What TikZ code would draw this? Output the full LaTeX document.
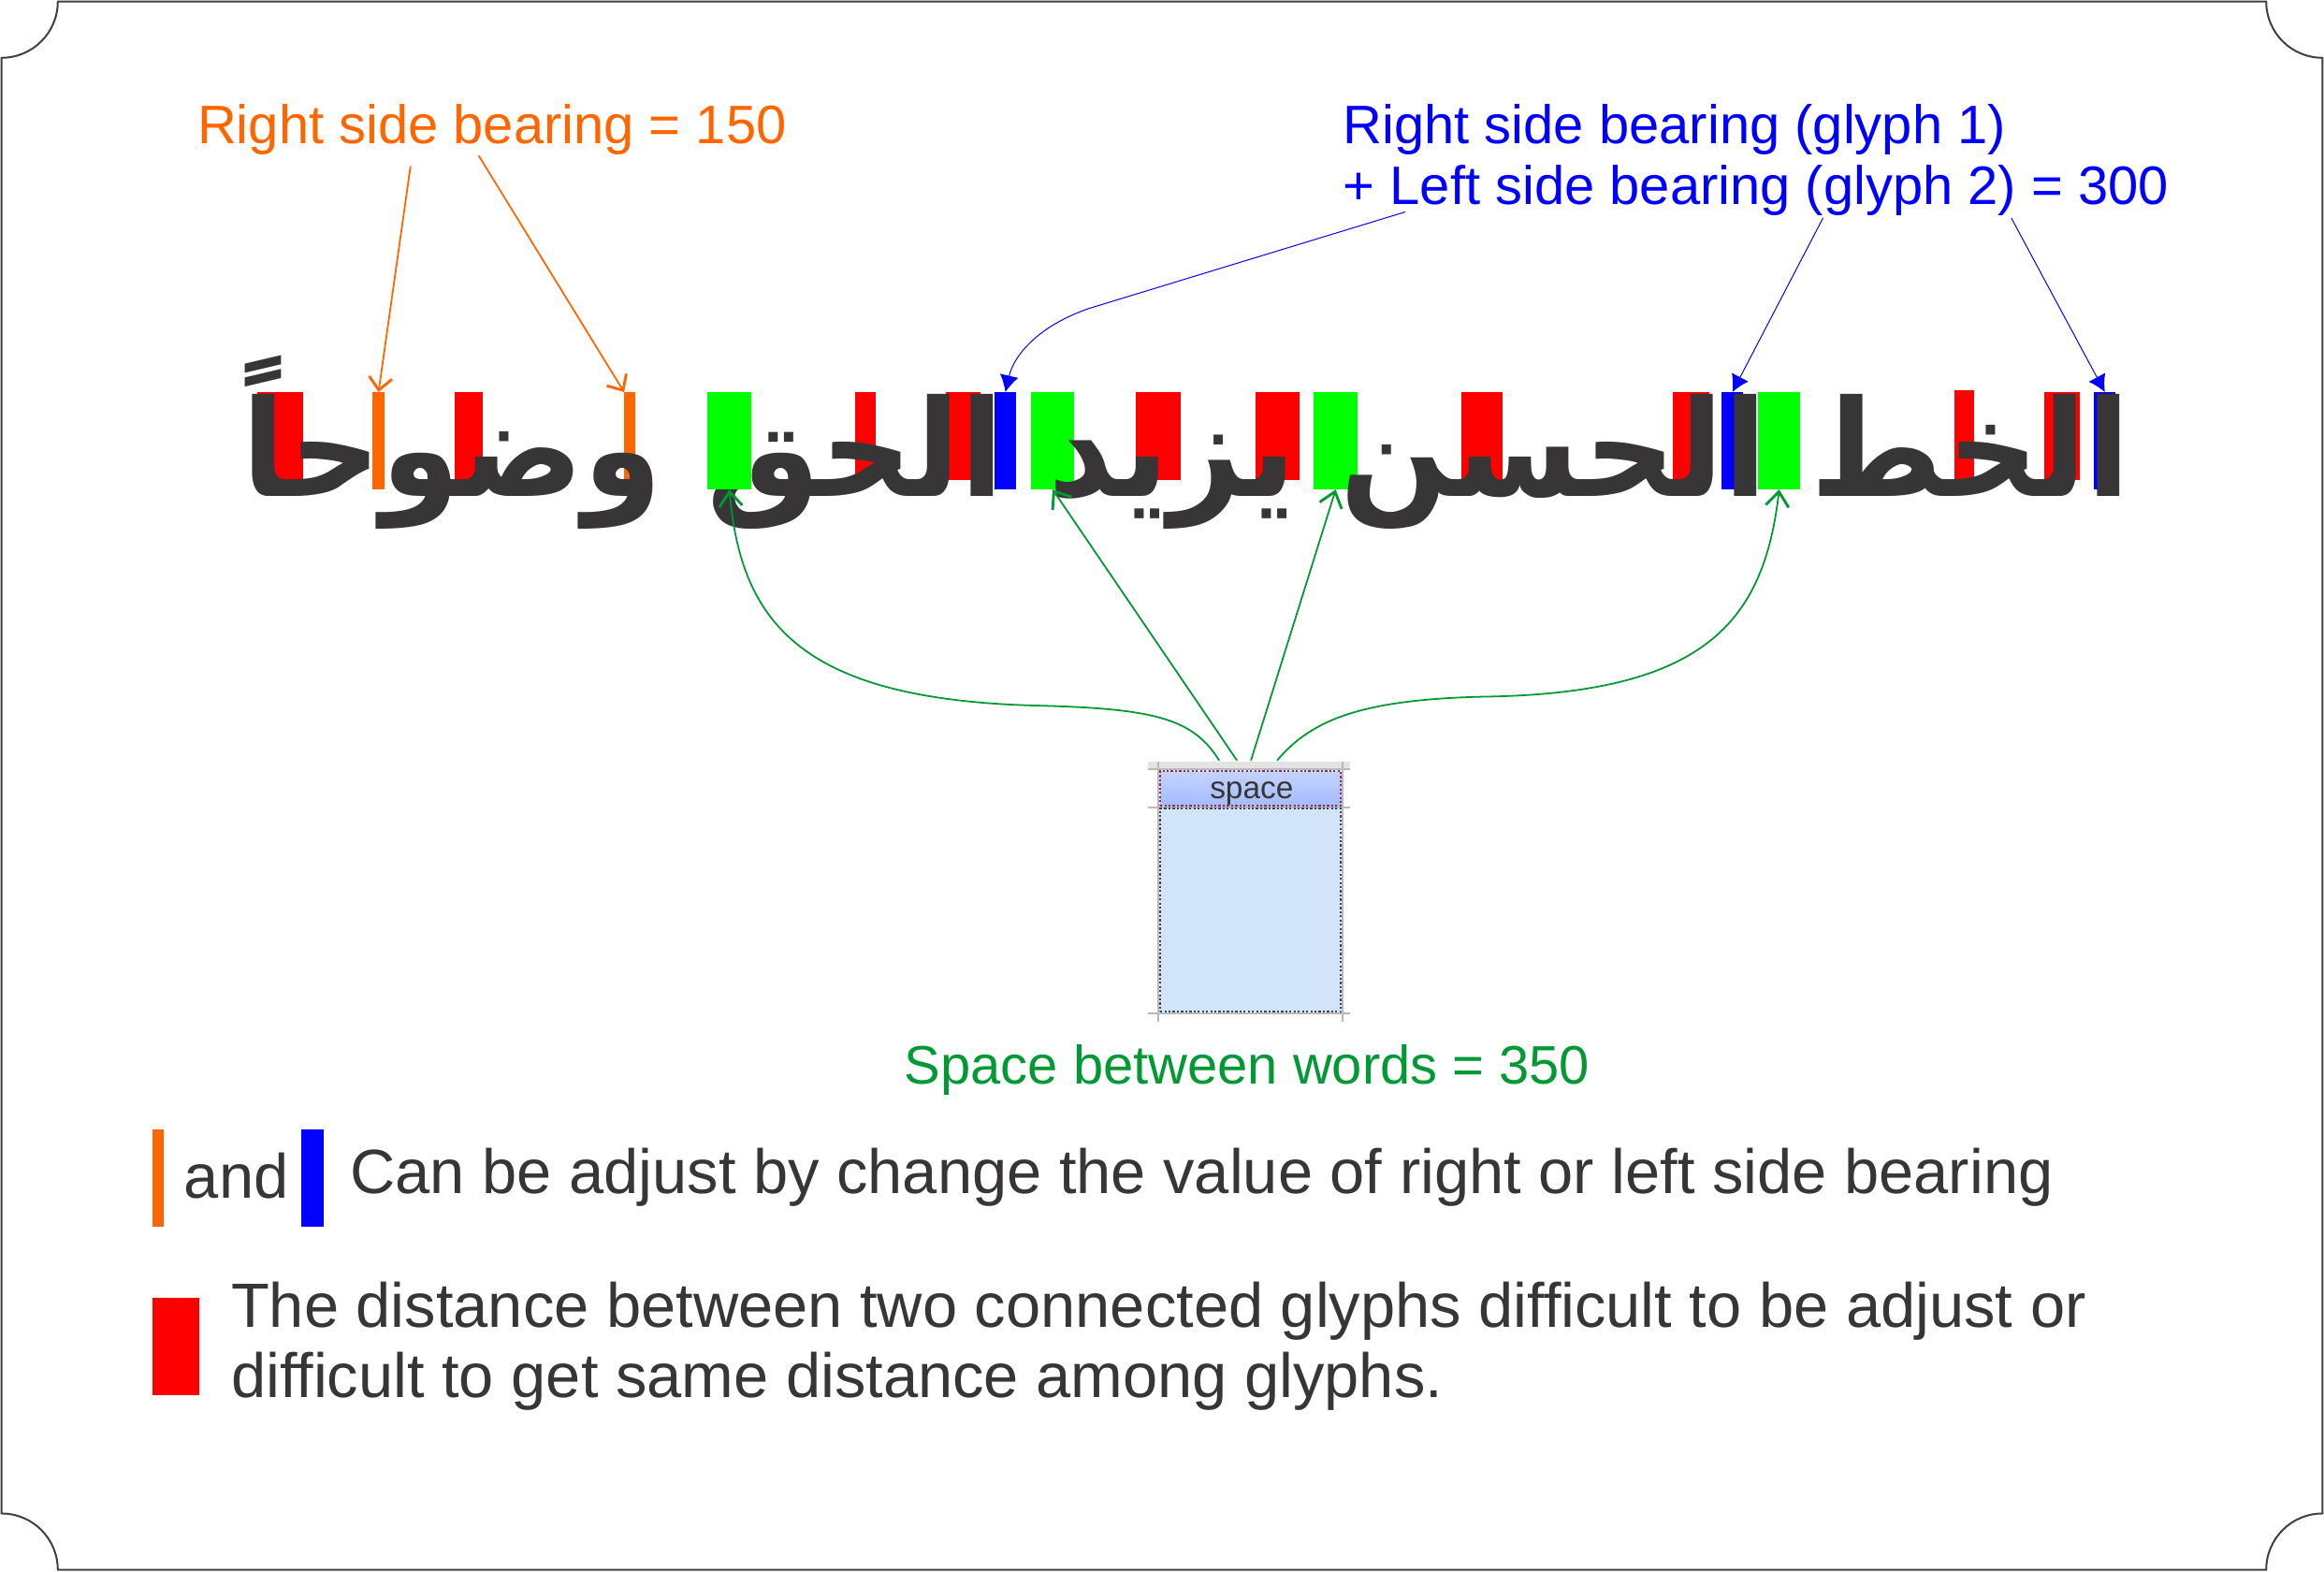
\documentclass[tikz,border=0pt]{standalone}
\usepackage{fontspec}
\setmainfont{Liberation Sans}
\TeXXeTstate=1
\usetikzlibrary{arrows.meta,fit}
% measure the Arabic line to give it the width and height of the reference
\newfontfamily\arabicmeasure[Script=Arabic]{DejaVu Sans}
\newcommand\arabictext{الخط الحسن يزيد الحق وضوحاً}
\newsavebox\arbox
\sbox\arbox{\fontsize{60}{70}\selectfont\arabicmeasure\bfseries\beginR\arabictext\endR}
\newlength\arH
\newlength\arW
\setlength\arH{\ht\arbox}
\addtolength\arH{\dp\arbox}
\setlength\arW{\wd\arbox}
\pgfmathsetmacro\arsize{60*((2.925cm)/(\arH))}
\pgfmathsetmacro\arstretch{((31.85cm)/(\arW))*(60/\arsize)}
\edef\defarabic{\noexpand\newfontfamily\noexpand\arabicfont[Script=Arabic,FakeStretch=\arstretch]{DejaVu Sans}}
\defarabic
\definecolor{ink}{RGB}{55,53,53}
\definecolor{framec}{RGB}{64,64,64}
\definecolor{borange}{RGB}{255,102,0}
\definecolor{bblue}{RGB}{0,0,255}
\definecolor{bred}{RGB}{255,0,0}
\definecolor{bgreen}{RGB}{0,255,0}
\definecolor{tgreen}{RGB}{0,153,51}
\definecolor{hdrtop}{RGB}{196,212,255}
\definecolor{hdrbot}{RGB}{164,188,255}
\definecolor{cellbody}{RGB}{210,228,250}
\definecolor{dotred}{RGB}{150,40,90}
\definecolor{dotdark}{RGB}{60,70,90}
\newcommand\gapbox[4]{\node[barbox, fill=#2, fit={#3 #4}] (#1) {};}
\begin{document}
\begin{tikzpicture}[x=0.025cm,y=-0.025cm,
  barbox/.style={inner sep=0pt, outer sep=0pt, draw=none},
  titlelbl/.style={inner sep=0pt, anchor=base west, font=\fontsize{26}{30}\selectfont},
  legendlbl/.style={inner sep=0pt, anchor=base west, text=ink, font=\fontsize{30}{36}\selectfont},
  oarr/.style={draw=borange, line width=0.8pt, -{Straight Barb[length=6pt,width=11pt,line width=1.3pt]}},
  garr/.style={draw=tgreen, line width=0.8pt, -{Straight Barb[length=7pt,width=11pt,line width=1.3pt]}},
  barr/.style={draw=bblue, line width=0.45pt, -{Latex[length=8pt,width=9pt]}},
  framepath/.style={draw=framec, line width=0.9pt},
  gridline/.style={draw=gray!55, line width=0.9pt}
]
\useasboundingbox (0,0) rectangle (1568,1060);
% frame with concave corners
\draw[framepath] (39,1) -- (1529,1) .. controls (1529,22) and (1546,39) .. (1567,39)
  -- (1567,1021) .. controls (1546,1021) and (1529,1038) .. (1529,1059)
  -- (39,1059) .. controls (39,1038) and (22,1021) .. (1,1021)
  -- (1,39) .. controls (22,39) and (39,22) .. (39,1) -- cycle;

% coloured gap boxes
\gapbox{r1}{bred}{(173.6,264.5)}{(204.5,323.9)}
\gapbox{o1}{borange}{(251.3,264.5)}{(259.5,330.2)}
\gapbox{r2}{bred}{(306.8,264.5)}{(325.8,323.9)}
\gapbox{o2}{borange}{(421.1,264.5)}{(428.7,330.2)}
\gapbox{g1}{bgreen}{(477.3,264.5)}{(506.9,330.2)}
\gapbox{r3}{bred}{(577.0,264.5)}{(590.9,323.9)}
\gapbox{r4}{bred}{(638.3,264.5)}{(661.6,323.9)}
\gapbox{b1}{bblue}{(671.1,264.5)}{(685.6,330.2)}
\gapbox{g2}{bgreen}{(695.7,264.5)}{(724.7,330.2)}
\gapbox{r5}{bred}{(766.4,264.5)}{(796.7,323.9)}
\gapbox{r6}{bred}{(847.2,264.5)}{(876.9,323.9)}
\gapbox{g3}{bgreen}{(886.4,264.5)}{(916.0,330.2)}
\gapbox{r7}{bred}{(986.1,264.5)}{(1013.9,323.9)}
\gapbox{r8}{bred}{(1128.8,264.5)}{(1153.4,323.9)}
\gapbox{b2}{bblue}{(1161.6,264.5)}{(1176.1,330.2)}
\gapbox{g4}{bgreen}{(1186.2,264.5)}{(1214.6,330.2)}
\gapbox{r9}{bred}{(1318.8,263.3)}{(1332.1,323.9)}
\gapbox{r10}{bred}{(1379.4,264.5)}{(1403.4,323.9)}
\gapbox{b3}{bblue}{(1412.9,264.5)}{(1427.4,330.2)}

% Arabic sample text
\node[inner sep=0pt, outer sep=0pt, anchor=north west, text=ink,
  font=\fontsize{\arsize}{\arsize}\selectfont] (arabic) at (163,240)
  {\arabicfont\bfseries\beginR\arabictext\endR};

% titles
\node[titlelbl, text=borange] (t150) at (133,97) {Right side bearing = 150};
\node[titlelbl, text=bblue] (t300a) at (906,97) {Right side bearing (glyph 1)};
\node[titlelbl, text=bblue] (t300b) at (906,138) {+ Left side bearing (glyph 2) = 300};

% space glyph cell
\fill[gray!22] (774.6,514) rectangle (911,518.5);
\draw[gridline] (774.6,519) -- (911,519);
\draw[gridline] (774.6,544.5) -- (911,544.5);
\draw[gridline] (774.6,683.5) -- (911,683.5);
\draw[gridline] (781.6,514) -- (781.6,689);
\draw[gridline] (906,514) -- (906,689);
\node[fit={(782.8,520.2) (904.8,543.5)}, inner sep=0pt, top color=hdrtop, bottom color=hdrbot,
  draw=dotred, densely dotted, line width=1pt] (hdr) {};
\node[inner sep=0pt, anchor=base, text=ink, font=\fontsize{15}{17}\selectfont] (sptxt) at (844.5,538.5) {space};
\node[fit={(782.8,545.5) (904.8,682.5)}, inner sep=0pt, fill=cellbody,
  draw=dotdark, densely dotted, line width=1pt] (cell) {};

\node[titlelbl, text=tgreen] (t350) at (610,731) {Space between words = 350};

% legend
\node[barbox, fill=borange, fit={(103,762) (110.5,827.7)}] (lgo) {};
\node[legendlbl] (land) at (124,808) {and};
\node[barbox, fill=bblue, fit={(203.3,762) (218.4,827.7)}] (lgb) {};
\node[legendlbl] (lcan) at (236,805) {Can be adjust by change the value of right or left side bearing};
\node[barbox, fill=bred, fit={(103,875.6) (134.4,941.3)}] (lgr) {};
\node[legendlbl] (ld1) at (155.7,895.2) {The distance between two connected glyphs difficult to be adjust or};
\node[legendlbl] (ld2) at (155.7,942.7) {difficult to get same distance among glyphs.};

% orange arrows
\coordinate (oa1) at (277,112);
\coordinate (oa2) at (323,105);
\draw[oarr] (oa1) -- (o1.north);
\draw[oarr] (oa2) -- (o2.north west);

% blue arrows
\coordinate (ba1) at (948,143);
\coordinate (ba1m) at (735,208);
\coordinate (ba2) at (1230,147);
\coordinate (ba3) at (1357,147);
\draw[barr] (ba1) -- (ba1m) .. controls (700,220) and (684,240) .. (b1.north);
\draw[barr] (ba2) -- (b2.north);
\draw[barr] (ba3) -- (b3.north);

% green arrows
\coordinate (gs1) at (822.6,513);
\coordinate (gs2) at (834.6,513);
\coordinate (gs3) at (844,513);
\coordinate (gs4) at (861.7,513);
\draw[garr] (gs1) .. controls (805,485) and (780,478) .. (700,476) .. controls (540,472) and (500,420) .. (g1.south);
\draw[garr] (gs2) -- (g2.south);
\draw[garr] (gs3) -- (g3.south);
\draw[garr] (gs4) .. controls (885,485) and (920,472) .. (1000,470) .. controls (1150,468) and (1190,420) .. (g4.south);
\end{tikzpicture}
\end{document}
